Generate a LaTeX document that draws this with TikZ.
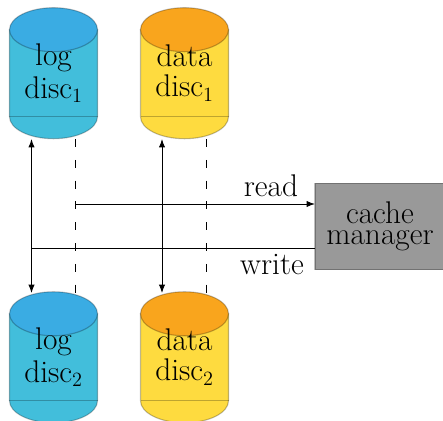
\documentclass[tikz,border=0pt]{standalone}
\usepackage{tikz}
\usetikzlibrary{arrows.meta}
\definecolor{logside}{HTML}{42BEDB}
\definecolor{logtop}{HTML}{3AACE3}
\definecolor{dataside}{HTML}{FEDB3F}
\definecolor{datatop}{HTML}{F9A51D}
\newcommand{\bigfont}{\fontsize{22.3}{21.5}\selectfont}
\tikzset{
every picture/.style={
line width=0.7pt
}}

\begin{document}
\begin{tikzpicture}[x=0.025cm, y=0.025cm, >={Latex[length=6pt,width=4.5pt]},
rim/.style = {draw=black, draw opacity=0.25, line width=0.8pt},
pics/disc/.style 2 args = {code = {
\path[rim, fill=#1] (-44,0) -- (-44,-87) arc (180:360:44 and 22) -- (44,0) -- cycle;
\draw[rim] (-44,-87) -- (44,-87);
\path[rim, fill=#2] (0,0) ellipse (44 and 22);
}},
word/.style = {font=\bigfont, inner sep=0pt, align=center},
gap/.style = {dash pattern=on 5.7pt off 9.1pt},
manager/.style = {rectangle, rim, fill=black!40, minimum width=3.25cm, minimum height=2.17cm, font=\bigfont, align=center, inner sep=0pt, outer sep=0pt}]
\useasboundingbox (0,0) rectangle (443,-421);

\begin{scope}
\pic at (53.5,-29.7) {disc={logside}{logtop}};
\pic at (184.5,-29.7) {disc={dataside}{datatop}};
\node[word] (log1) at (53.5,-73) {log\\[2pt]disc$_1$};
\node[word] (data1) at (184.5,-73) {data\\disc$_1$};
\coordinate (log1a) at (31.5,-139);
\coordinate (log1b) at (75,-139);
\coordinate (data1a) at (162,-139);
\coordinate (data1b) at (206,-139);
\end{scope}

\begin{scope}[yshift=-7.1cm]
\pic at (53.5,-29.7) {disc={logside}{logtop}};
\pic at (184.5,-29.7) {disc={dataside}{datatop}};
\node[word] (log2) at (53.5,-73) {log\\[2pt]disc$_2$};
\node[word] (data2) at (184.5,-73) {data\\disc$_2$};
\coordinate (log2a) at (31.5,-9);
\coordinate (log2b) at (75,-9);
\coordinate (data2a) at (162,-9);
\coordinate (data2b) at (206,-9);
\end{scope}

\node[manager] (cache) at (380,-226.5) {cache\\[-7pt]manager};

\coordinate (readstart) at (75,-204);
\coordinate (writeend) at (31.5,-248);

\draw[<->] (log1a) -- (log2a);
\draw[<->] (data1a) -- (data2a);
\draw[gap] (log1b) -- (log2b);
\draw[gap] (data1b) -- (data2b);
\draw[->] (readstart) -- (cache.west |- readstart);
\draw (cache.west |- writeend) -- (writeend);

\node[word, anchor=base] (read) at (271,-197) {read};
\node[word, anchor=base] (write) at (272,-275) {write};
\end{tikzpicture}
\end{document}
